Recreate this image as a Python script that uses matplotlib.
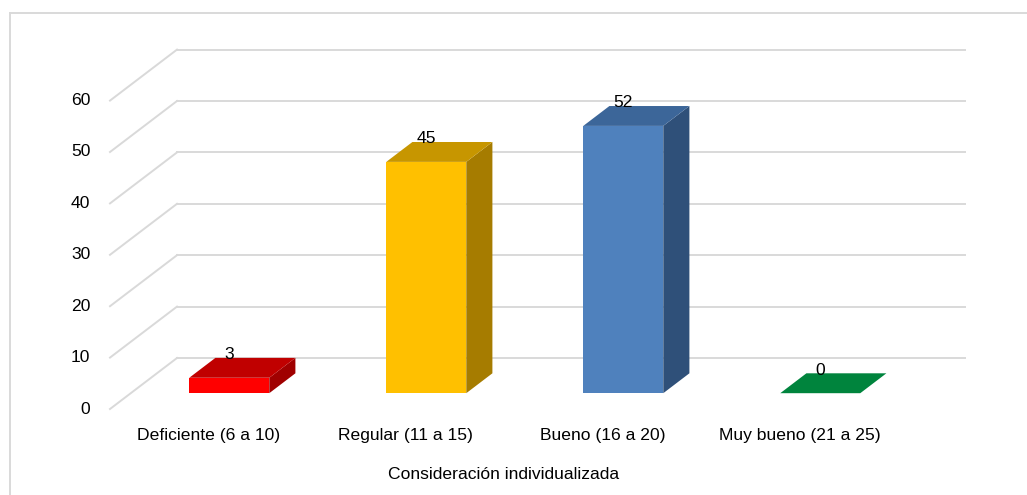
import matplotlib.pyplot as plt
import numpy as np

categories = ['Deficiente (6 a 10)', 'Regular (11 a 15)', 'Bueno (16 a 20)', 'Muy bueno (21 a 25)']
values = [3, 45, 52, 0]
front_colors = ['#FF0000', '#FFC000', '#4F81BD', '#00843D']
top_colors = ['#C00000', '#C79600', '#3C6699', '#00843D']
side_colors = ['#A00000', '#A67C00', '#2F5079', '#006B31']
yticks = [0, 10, 20, 30, 40, 50, 60]
xlabel = 'Consideración individualizada'

plt.rcParams['font.family'] = ['Liberation Sans Narrow', 'Liberation Sans', 'DejaVu Sans']
FS = 12.6

fig = plt.figure(figsize=(10.27, 4.95), dpi=100)
ax = fig.add_axes([0, 0, 1, 1])
# 197 px per category, 5.14 px per value unit; front floor corner at (110, 409) px
ax.set_xlim(-0.5 - 110 / 197, -0.5 + (1027 - 110) / 197)
ax.set_ylim(-(495 - 409) / 5.14, 409 / 5.14)
ax.axis('off')

# depth of the floor (oblique projection)
DX, DY = 67 / 197, 51 / 5.14
d0, d1 = 0.31, 0.70      # bar front/back as fraction of depth
bw = 80 / 197            # bar width
grid_c = '#D9D9D9'
x0, x1 = -0.5, 3.5

# floor / gridlines: diagonal on the side wall + back wall line
for t in yticks:
    ax.plot([x0, x0 + DX], [t, t + DY], color=grid_c, lw=1.4, zorder=1)
    ax.plot([x0 + DX, x1 + DX], [t + DY, t + DY], color=grid_c, lw=1.4, zorder=1)
    ax.text(x0 - 0.1, t, str(t), ha='right', va='center', fontsize=FS, color='#000000')

# 3D bars
for i, v in enumerate(values):
    fx = i - bw / 2 + d0 * DX
    fy = d0 * DY
    ox, oy = (d1 - d0) * DX, (d1 - d0) * DY
    if v > 0:
        ax.fill([fx, fx + bw, fx + bw, fx], [fy, fy, fy + v, fy + v],
                color=front_colors[i], lw=0, zorder=3)
        ax.fill([fx + bw, fx + bw + ox, fx + bw + ox, fx + bw],
                [fy, fy + oy, fy + v + oy, fy + v],
                color=side_colors[i], lw=0, zorder=3)
    ax.fill([fx, fx + bw, fx + bw + ox, fx + ox],
            [fy + v, fy + v, fy + v + oy, fy + v + oy],
            color=top_colors[i], lw=0, zorder=3)
    ax.text(fx + bw / 2, v + d1 * DY + 0.6, str(v), ha='center', va='center',
            fontsize=FS, color='#000000', zorder=4)

for i, c in enumerate(categories):
    ax.text(i, -5.2, c, ha='center', va='center', fontsize=FS, color='#000000')

ax.text(1.5, -12.7, xlabel, ha='center', va='center', fontsize=FS, color='#000000')

# chart area border (top and left edges)
fig.add_artist(plt.Line2D([10 / 1027, 1], [1 - 13 / 495, 1 - 13 / 495],
                          color=grid_c, lw=1.4))
fig.add_artist(plt.Line2D([10 / 1027, 10 / 1027], [0, 1 - 13 / 495],
                          color=grid_c, lw=1.4))

fig.savefig('out.png', dpi=100)
